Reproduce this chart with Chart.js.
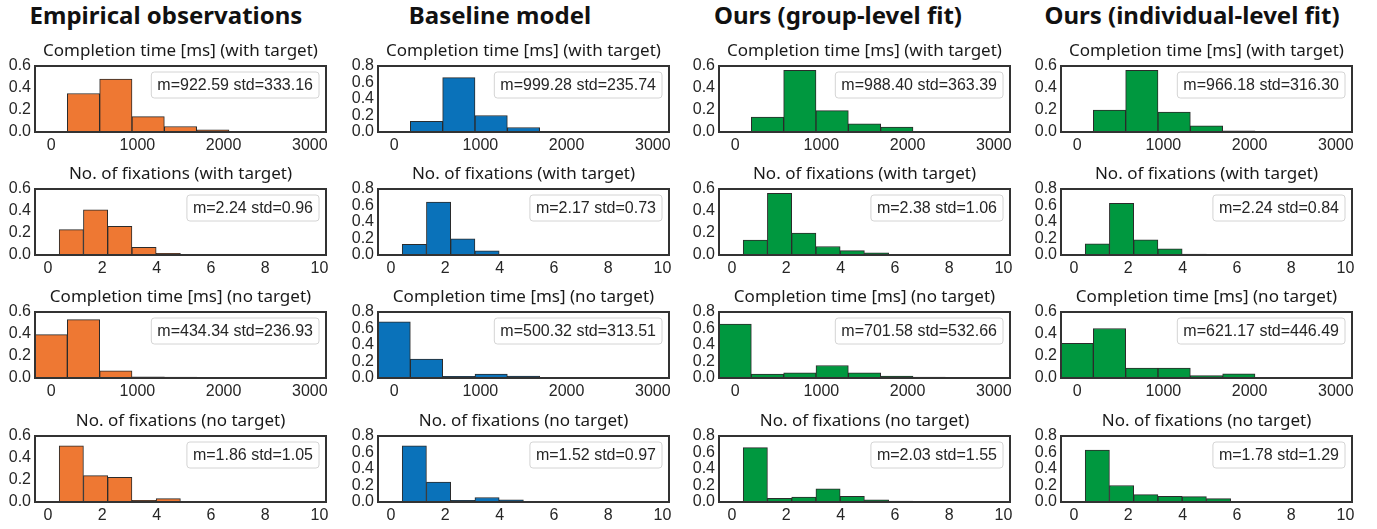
<!DOCTYPE html>
<html>
<head>
<meta charset="utf-8">
<script src="https://cdn.jsdelivr.net/npm/chart.js@4/dist/chart.umd.min.js"></script>
<style>
  body { margin: 0; background: #fff; }
  #fig { position: relative; width: 1377px; height: 529px; overflow: hidden; }
  #fig canvas { position: absolute; }
  .head { position: absolute; top: -2px; font-family: "Noto Sans", sans-serif; font-weight: bold;
          font-size: 24px; color: #111; white-space: nowrap; transform: translateX(-50%); }
</style>
</head>
<body>
<div id="fig"></div>
<script>
// histogram bins (bin centres)
var ctBins = [0, 375, 750, 1125, 1500, 1875, 2250, 2625, 3000];
var fixBins = [-0.035, 0.858, 1.751, 2.644, 3.537, 4.43, 5.323, 6.216, 7.109, 8.002, 8.895, 9.788];
var ctTicks = [0, 1000, 2000, 3000];
var fixTicks = [0, 2, 4, 6, 8, 10];

var columnNames = ["Empirical observations", "Baseline model", "Ours (group-level fit)", "Ours (individual-level fit)"];
var rowTitles = [
  "Completion time [ms] (with target)",
  "No. of fixations (with target)",
  "Completion time [ms] (no target)",
  "No. of fixations (no target)"
];

// Completion time (with target)
var empCtWith = [0, 0.35, 0.48, 0.14, 0.05, 0.02, 0.005, 0.002, 0];
var baseCtWith = [0, 0.13, 0.66, 0.2, 0.055, 0.008, 0, 0, 0];
var groupCtWith = [0, 0.135, 0.56, 0.195, 0.075, 0.045, 0, 0, 0];
var indCtWith = [0, 0.2, 0.56, 0.18, 0.057, 0.01, 0, 0, 0];
// No. of fixations (with target)
var empFixWith = [0, 0.23, 0.41, 0.26, 0.07, 0.015, 0.003, 0, 0, 0, 0, 0];
var baseFixWith = [0, 0.13, 0.64, 0.195, 0.05, 0.004, 0, 0, 0, 0, 0, 0];
var groupFixWith = [0, 0.135, 0.56, 0.2, 0.077, 0.04, 0.02, 0.003, 0, 0, 0, 0];
var indFixWith = [0, 0.135, 0.625, 0.185, 0.075, 0.01, 0, 0, 0, 0, 0, 0];
// Completion time (no target)
var empCtNo = [0.395, 0.53, 0.066, 0.01, 0.008, 0, 0, 0, 0];
var baseCtNo = [0.68, 0.23, 0.02, 0.048, 0.024, 0.006, 0, 0, 0];
var groupCtNo = [0.655, 0.048, 0.064, 0.152, 0.064, 0.024, 0.012, 0.004, 0];
var indCtNo = [0.315, 0.45, 0.09, 0.09, 0.021, 0.039, 0, 0, 0];
// No. of fixations (no target)
var empFixNo = [0, 0.51, 0.24, 0.225, 0.015, 0.03, 0, 0, 0, 0, 0, 0];
var baseFixNo = [0, 0.68, 0.24, 0.02, 0.055, 0.025, 0.005, 0, 0, 0, 0, 0];
var groupFixNo = [0, 0.66, 0.045, 0.06, 0.16, 0.07, 0.025, 0.01, 0, 0, 0, 0];
var indFixNo = [0, 0.63, 0.2, 0.09, 0.07, 0.065, 0.04, 0, 0, 0, 0, 0];

var stats = [
  ["m=922.59 std=333.16", "m=999.28 std=235.74", "m=988.40 std=363.39", "m=966.18 std=316.30"],
  ["m=2.24 std=0.96", "m=2.17 std=0.73", "m=2.38 std=1.06", "m=2.24 std=0.84"],
  ["m=434.34 std=236.93", "m=500.32 std=313.51", "m=701.58 std=532.66", "m=621.17 std=446.49"],
  ["m=1.86 std=1.05", "m=1.52 std=0.97", "m=2.03 std=1.55", "m=1.78 std=1.29"]
];
var values = [
  [empCtWith, baseCtWith, groupCtWith, indCtWith],
  [empFixWith, baseFixWith, groupFixWith, indFixWith],
  [empCtNo, baseCtNo, groupCtNo, indCtNo],
  [empFixNo, baseFixNo, groupFixNo, indFixNo]
];
var yMax = [
  [0.6, 0.8, 0.6, 0.6],
  [0.6, 0.8, 0.6, 0.8],
  [0.6, 0.8, 0.8, 0.6],
  [0.6, 0.8, 0.8, 0.8]
];
var colColors = ["#ee7833", "#0a72ba", "#00983f", "#00983f"];

// layout of the grid (plot boxes)
var boxLeft = [35, 378, 719, 1061];
var boxTop = [66, 189, 312, 436];
var headX = [166, 500, 838, 1192];
var boxW = 291, boxH = 66, yAxisW = 35, xAxisH = 24, topPad = 32, rightPad = 12;

var tickFont = { family: "'Liberation Sans', Arial, sans-serif", size: 16 };

// frame, title and the m/std box
var panelDecor = {
  id: "panelDecor",
  afterDatasetsDraw: function (chart, args, opts) {
    var a = chart.chartArea;
    var ctx = chart.ctx;
    ctx.save();
    ctx.strokeStyle = "#333";
    ctx.lineWidth = 2;
    ctx.strokeRect(a.left, a.top, a.right - a.left, a.bottom - a.top);

    ctx.font = "16px 'Liberation Sans', Arial, sans-serif";
    var tw = ctx.measureText(opts.stats).width;
    var bw = tw + 12, bh = 26;
    var bx = a.right - 7 - bw, by = a.top + 6;
    ctx.beginPath();
    ctx.roundRect(bx, by, bw, bh, 3);
    ctx.fillStyle = "rgba(255,255,255,0.85)";
    ctx.fill();
    ctx.strokeStyle = "#d4d4d4";
    ctx.lineWidth = 1;
    ctx.stroke();
    ctx.fillStyle = "#262626";
    ctx.textBaseline = "middle";
    ctx.textAlign = "left";
    ctx.fillText(opts.stats, bx + 6, by + bh / 2 + 1);

    ctx.font = "17px 'Noto Sans', sans-serif";
    ctx.textAlign = "center";
    ctx.fillStyle = "#1a1a1a";
    ctx.fillText(opts.title, (a.left + a.right) / 2, a.top - 15);
    ctx.restore();
  }
};

var fig = document.getElementById("fig");

for (var c = 0; c < 4; c++) {
  var h = document.createElement("div");
  h.className = "head";
  h.style.left = headX[c] + "px";
  h.textContent = columnNames[c];
  fig.appendChild(h);
}

for (var r = 0; r < 4; r++) {
  for (var c = 0; c < 4; c++) {
    var isCt = r % 2 == 0;
    var bins = isCt ? ctBins : fixBins;
    var ticks = isCt ? ctTicks : fixTicks;
    var vals = values[r][c];
    var pts = [];
    for (var i = 0; i < bins.length; i++) pts.push({ x: bins[i], y: vals[i] });

    var cv = document.createElement("canvas");
    cv.width = yAxisW + boxW + rightPad;
    cv.height = topPad + boxH + xAxisH;
    cv.style.left = boxLeft[c] - yAxisW + "px";
    cv.style.top = boxTop[r] - topPad + "px";
    fig.appendChild(cv);

    new Chart(cv.getContext("2d"), {
      type: "bar",
      data: {
        datasets: [{
          data: pts,
          backgroundColor: colColors[c],
          borderColor: "#2b2b2b",
          borderWidth: 1,
          barPercentage: 1,
          categoryPercentage: 1
        }]
      },
      options: {
        responsive: false,
        animation: false,
        layout: { padding: { top: topPad, right: rightPad, left: 0, bottom: 0 } },
        plugins: {
          legend: { display: false },
          tooltip: { enabled: false },
          panelDecor: { title: rowTitles[r], stats: stats[r][c] }
        },
        scales: {
          x: {
            type: "linear",
            offset: false,
            min: isCt ? -187.5 : -0.48,
            max: isCt ? 3187.5 : 10.24,
            grid: { display: false, drawTicks: false, offset: false },
            border: { display: false },
            ticks: {
              font: tickFont, color: "#262626", padding: 4, autoSkip: false, maxRotation: 0,
              callback: function (v) { return String(v); }
            },
            afterBuildTicks: (function (t) {
              return function (s) { s.ticks = t.map(function (v) { return { value: v }; }); };
            })(ticks),
            afterFit: function (s) { s.height = xAxisH; }
          },
          y: {
            min: 0,
            max: yMax[r][c],
            grid: { display: false, drawTicks: false },
            border: { display: false },
            ticks: {
              stepSize: 0.2,
              autoSkip: false,
              font: tickFont,
              color: "#262626",
              padding: 4,
              callback: function (v) { return Number(v).toFixed(1); }
            },
            afterFit: function (s) { s.width = yAxisW; }
          }
        }
      },
      plugins: [panelDecor]
    });
  }
}
</script>
</body>
</html>
